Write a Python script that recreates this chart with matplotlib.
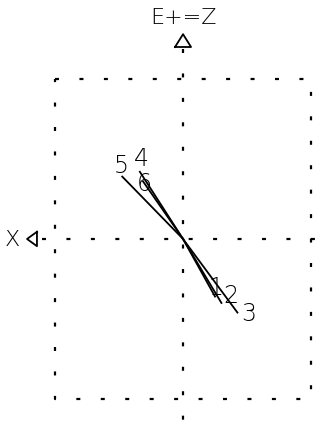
import numpy as np
import matplotlib.pyplot as plt

plt.rcParams['font.family'] = ['DejaVu Sans']

# vector end points (east, north) for each step
labels = ['1', '2', '3', '4', '5', '6']
east = [0.20, 0.24, 0.34, -0.27, -0.38, -0.25]
north = [-0.36, -0.40, -0.46, 0.42, 0.39, 0.36]
# label offsets in points
label_dx = [1, 7, 8, 1, -1, 1]
label_dy = [7, 6, 0, 10, 8, -1]

fig = plt.figure(figsize=(3.28, 4.39), dpi=100)
ax = fig.add_axes([0, 0, 1, 1])
ax.set_xlim(-1.144, 0.906)
ax.set_ylim(-1.244, 1.5)
ax.axis('off')

dash = dict(color='black', lw=1.6, dashes=(1.8, 9.2))
# frame
ax.plot([-0.8, 0.8, 0.8, -0.8, -0.8], [1.0, 1.0, -1.0, -1.0, 1.0], **dash)
# axes through origin
ax.plot([0, 0], [1.19, -1.3], **dash)
ax.plot([-0.88, 1.0], [0, 0], **dash)

# axis arrows
ax.plot([-0.05, 0, 0.05, -0.05], [1.2, 1.28, 1.2, 1.2], color='black', lw=1.3)
ax.plot([-0.913, -0.975, -0.913, -0.913], [0.045, 0, -0.045, 0.045], color='black', lw=1.3)
ax.text(0, 1.39, 'E+=Z', ha='center', va='center', fontsize=16, fontweight='light')
ax.text(-1.07, 0, 'X', ha='center', va='center', fontsize=16, fontweight='light')

for lab, x, y, dx, dy in zip(labels, east, north, label_dx, label_dy):
    ax.plot([0, x], [0, y], color='black', lw=1.3)
    ax.annotate(lab, (x, y), xytext=(dx, dy), textcoords='offset points',
                ha='center', va='center', fontsize=17, fontweight='light')

fig.savefig('out.png', dpi=100)
